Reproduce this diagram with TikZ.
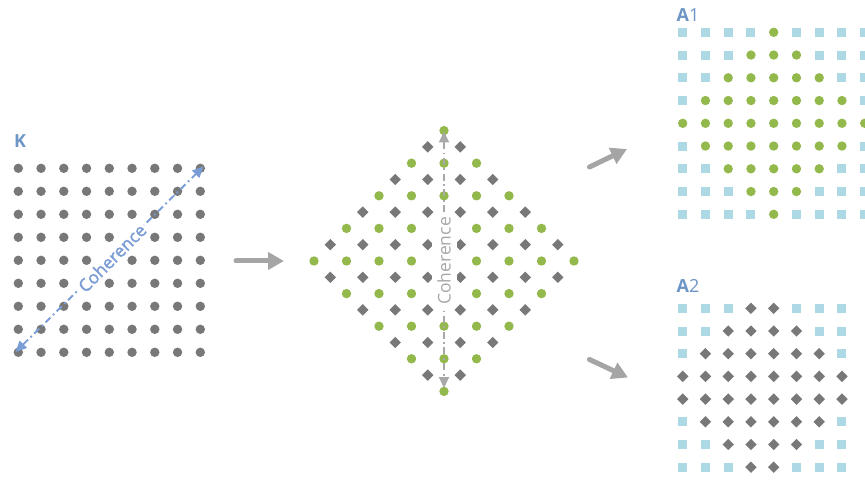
\documentclass[tikz,border=0pt]{standalone}
\usepackage{fontspec}
\setmainfont{Open Sans}
\newfontfamily\semiopen{Open Sans}[FakeBold=1.6]
\usetikzlibrary{arrows.meta}
\definecolor{dotgray}{HTML}{787878}
\definecolor{leafgreen}{HTML}{93B94D}
\definecolor{paleblue}{HTML}{ADD9E5}
\definecolor{labelblue}{HTML}{6D95C6}
\definecolor{cohblue}{HTML}{7B9DD6}
\definecolor{cohgray}{HTML}{A8A8A8}
\definecolor{arrowgray}{HTML}{A5A5A5}
\tikzset{
  greendot/.style={fill=leafgreen},
  graydot/.style={fill=dotgray},
  paneltitle/.style={text=labelblue, font=\fontsize{18}{20}\selectfont, inner sep=0pt},
  cohline/.style={line width=1.9pt, dash pattern=on 7pt off 3.5pt on 1.8pt off 3.5pt,
                  {Triangle[length=11pt,width=10pt]}-{Triangle[length=11pt,width=10pt]}},
  cohlabel/.style={fill=white, font=\fontsize{17.5}{20}\selectfont, inner xsep=2pt, inner ysep=1pt},
  fatarrow/.style={draw=arrowgray, line width=5pt, line cap=round,
                   -{Triangle[length=16pt,width=17pt]}},
}
\newcommand\greenpt[2]{\fill[greendot] ({#1},{#2}) circle[radius=4.7];}
\newcommand\graypt[2]{\fill[graydot] ({#1},{#2}) circle[radius=4.7];}
\newcommand\graydia[2]{\fill[dotgray] ({#1},{#2}) +(0,-5.7) -- +(5.7,0) -- +(0,5.7) -- +(-5.7,0) -- cycle;}
\newcommand\bluesq[2]{\fill[paleblue] ({#1},{#2}) +(-4.5,-4.5) rectangle +(4.5,4.5);}
\begin{document}
\begin{tikzpicture}[x=1pt,y=-1pt]
\useasboundingbox (0,0) rectangle (865,481);

% ---- K: 9x9 square grid ----
\node[paneltitle, font=\fontsize{18}{20}\selectfont\bfseries] (kTitle) at (20,141.5) {K};
\foreach \i in {0,...,8} \foreach \j in {0,...,8} {
  \graypt{18.3+22.75*\i}{168.3+23*\j}
}
\coordinate (kLow) at (15.5,352);
\coordinate (kHigh) at (203.5,166.5);
\draw[cohline, cohblue] (kLow) -- (kHigh);
\node[cohlabel, text=cohblue, rotate=45, font=\fontsize{17.5}{20}\semiopen] (kCoh) at (112,258) {Coherence};

% ---- rotated grid ----
\foreach \i in {-4,...,4} \foreach \j in {-4,...,4} {
  \pgfmathtruncatemacro\d{abs(\i)+abs(\j)}
  \ifnum\d<5 \greenpt{444+32.5*\i}{261+32.6*\j}\fi
}
\foreach \i in {-4,...,3} \foreach \j in {-4,...,3} {
  \pgfmathtruncatemacro\d{abs(2*\i+1)+abs(2*\j+1)}
  \ifnum\d<9 \graydia{444+32.5*(\i+0.5)}{261+32.6*(\j+0.5)}\fi
}
\coordinate (dTop) at (444,131.5);
\coordinate (dBot) at (444,388);
\draw[cohline, cohgray] (dTop) -- (dBot);
\node[cohlabel, text=cohgray, rotate=90, minimum height=25pt] (dCoh) at (444,261) {Coherence};

% ---- A1 ----
\node[paneltitle, anchor=west] (aOneTitle) at (676.5,15) {\textbf{A}1};
\foreach \i in {0,...,8} \foreach \j in {0,...,8} {
  \pgfmathtruncatemacro\d{abs(\i-4)+abs(\j-4)}
  \ifnum\d<5 \greenpt{682.7+22.75*\i}{32.3+22.75*\j}\else \bluesq{682.7+22.75*\i}{32.3+22.75*\j}\fi
}

% ---- A2 ----
\node[paneltitle, anchor=west] (aTwoTitle) at (676.5,286) {\textbf{A}2};
\foreach \i in {0,...,7} \foreach \j in {0,...,7} {
  \pgfmathtruncatemacro\d{abs(2*\i-7)+abs(2*\j-7)}
  \ifnum\d<9 \graydia{682.7+22.75*\i}{308.3+22.7*\j}\else \bluesq{682.7+22.75*\i}{308.3+22.7*\j}\fi
}

% ---- flow arrows ----
\coordinate (fTail) at (236,261);
\coordinate (fHead) at (284,261);
\coordinate (upTail) at (589.5,167);
\coordinate (upHead) at (627,149);
\coordinate (dnTail) at (589.5,359.5);
\coordinate (dnHead) at (628,377.5);
\draw[fatarrow] (fTail) -- (fHead);
\draw[fatarrow] (upTail) -- (upHead);
\draw[fatarrow] (dnTail) -- (dnHead);
\end{tikzpicture}
\end{document}
